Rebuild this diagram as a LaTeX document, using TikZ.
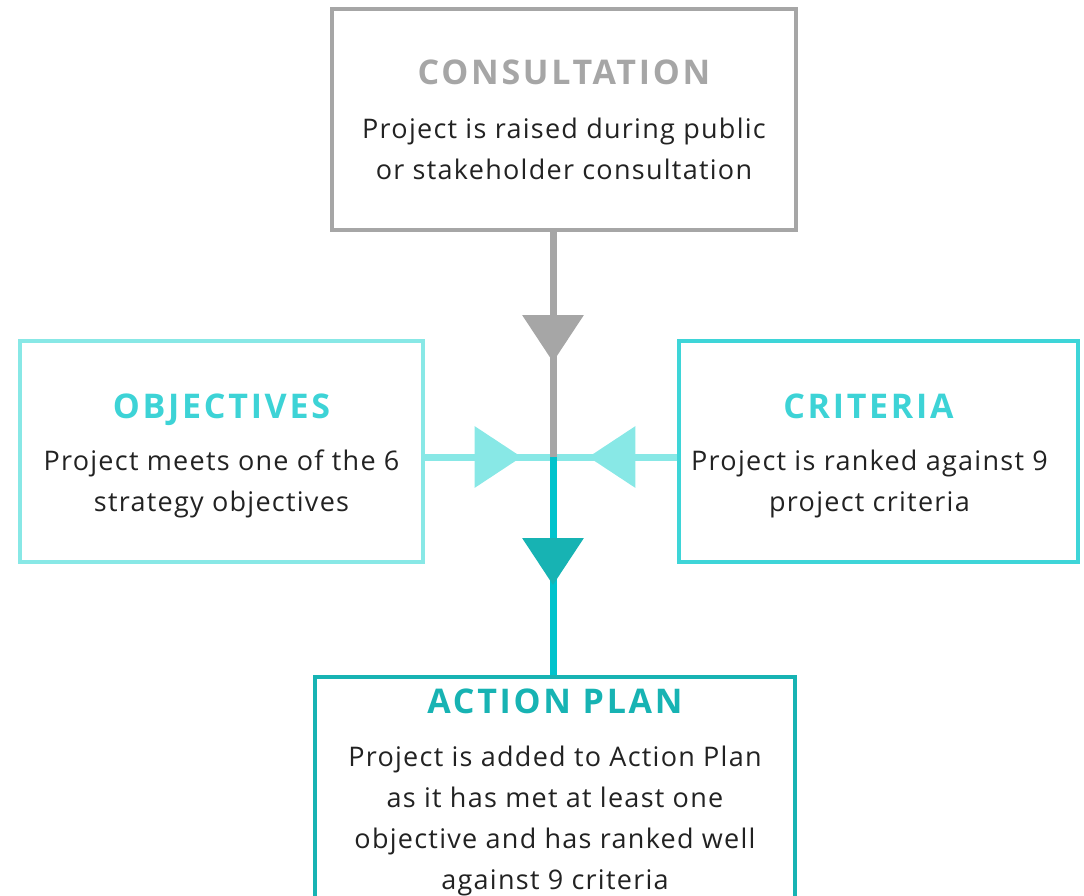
\documentclass[tikz,border=0pt]{standalone}
\usepackage{fontspec}
\setmainfont{Open Sans}
\newfontfamily\bodyfont[LetterSpace=4.7]{Open Sans}
\newfontfamily\headfont[LetterSpace=8]{Open Sans}
\usetikzlibrary{arrows.meta,positioning,decorations.markings}

\definecolor{consgray}{HTML}{A6A6A6}
\definecolor{lightcyan}{HTML}{88E8E6}
\definecolor{critcyan}{HTML}{3ED5D8}
\definecolor{titlecyan}{HTML}{3DD3D6}
\definecolor{linkteal}{HTML}{00C3CC}
\definecolor{darkteal}{HTML}{17B3B3}
\definecolor{bodytext}{HTML}{222222}

\begin{document}
\begin{tikzpicture}[x=0.5pt,y=-0.5pt,
      mybox/.style={
         draw,
         rectangle,
         inner sep=0pt,
         line width=2pt},
      mytitle/.style={
         font=\headfont\fontsize{17}{19}\selectfont\bfseries,
         inner sep=0pt,
         anchor=base},
      mytext/.style={
         font=\bodyfont\fontsize{13.5}{20.5}\selectfont,
         text=bodytext,
         align=center,
         inner sep=0pt,
         anchor=base},
      myline/.style={line width=3.5pt},
      midarrow/.style 2 args={
         postaction={decorate},
         decoration={markings,
            mark=at position #1 with {\arrow[#2]{Triangle[length=23.5pt,width=30pt]}}}}
      ]
      \useasboundingbox (0,0) rectangle (1084,896);
      \clip (0,0) rectangle (1084,896);

      % boxes
      \node[mybox,draw=consgray,minimum width=232pt,minimum height=110.5pt] (cons) at (564,119.5) {};
      \node[mybox,draw=lightcyan,line width=1.6pt,minimum width=201.5pt,minimum height=110.5pt] (obj) at (221.5,451.5) {};
      \node[mybox,draw=critcyan,line width=1.6pt,minimum width=199.5pt,minimum height=110.5pt] (crit) at (878.5,451.5) {};
      \node[mybox,draw=darkteal,minimum width=240pt,minimum height=130pt] (act) at (555,807) {};
      \coordinate (junc) at (553,457);

      % titles and texts (text nodes sit on the baseline of their last line)
      \node[mytitle,text=consgray] (consT) at ([yshift=-38.5pt]cons.north) {CONSULTATION};
      \node[mytext] (consX) at ([yshift=-86pt]cons.north) {Project is raised during public\\or stakeholder consultation};
      \node[mytitle,text=titlecyan] (objT) at ([yshift=-39.5pt]obj.north) {OBJECTIVES};
      \node[mytext] (objX) at ([yshift=-86pt]obj.north) {Project meets one of the 6\\strategy objectives};
      \node[mytitle,text=titlecyan] (critT) at ([xshift=-5pt,yshift=-39.5pt]crit.north) {CRITERIA};
      \node[mytext] (critX) at ([xshift=-4.5pt,yshift=-86pt]crit.north) {Project is ranked against 9\\project criteria};
      \node[mytitle,text=darkteal] (actT) at ([yshift=-19pt]act.north) {ACTION PLAN};
      \node[mytext] (actX) at ([yshift=-107pt]act.north) {Project is added to Action Plan\\as it has met at least one\\objective and has ranked well\\against 9 criteria};

      % connectors
      \draw[myline,lightcyan,midarrow={48.5pt}{lightcyan}] (obj.east |- junc) -- (junc);
      \draw[myline,lightcyan,midarrow={44.5pt}{lightcyan}] (crit.west |- junc) -- (junc);
      \draw[myline,consgray,midarrow={65pt}{consgray}] (junc |- cons.south) -- (junc);
      \draw[myline,linkteal,midarrow={64pt}{darkteal}] (junc) -- (junc |- act.north);
    \end{tikzpicture}
\end{document}
